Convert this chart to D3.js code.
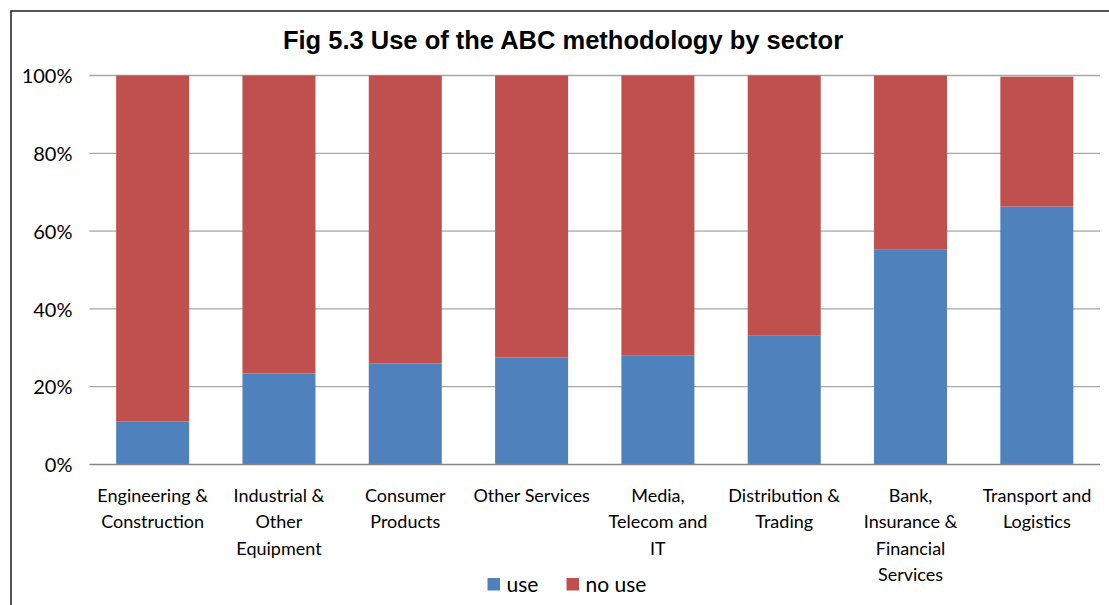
<!DOCTYPE html>
<html>
<head>
<meta charset="utf-8">
<script src="https://cdn.jsdelivr.net/npm/d3@7/dist/d3.min.js"></script>
<style>
  html, body { margin: 0; padding: 0; background: #fff; }
  svg { display: block; }
</style>
</head>
<body>
<svg id="chart" width="1109" height="605"></svg>
<script>
// Sectors along the x axis (multi-line labels)
const sectors = [
  ["Engineering &", "Construction"],
  ["Industrial &", "Other", "Equipment"],
  ["Consumer", "Products"],
  ["Other Services"],
  ["Media,", "Telecom and", "IT"],
  ["Distribution &", "Trading"],
  ["Bank,", "Insurance &", "Financial", "Services"],
  ["Transport and", "Logistics"]
];
// Share of respondents (%) per sector
const useShare   = [11.1, 23.4, 26.0, 27.5, 28.1, 33.1, 55.2, 66.3];
const noUseShare = [88.9, 76.6, 74.0, 72.5, 71.9, 66.9, 44.8, 33.4];
const seriesNames = ["use", "no use"];
const yTicks = [0, 20, 40, 60, 80, 100];

const colors = { "use": "#4F81BD", "no use": "#C0504D" };

const svg = d3.select("#chart");
const W = 1109, H = 605;
const plot = { left: 89.5, right: 1100, top: 75.5, bottom: 464.5 };

// Outer chart frame
svg.append("rect")
  .attr("x", 11).attr("y", 11)
  .attr("width", W + 50).attr("height", H + 50)
  .attr("fill", "#fff")
  .attr("stroke", "#2b2b2b").attr("stroke-width", 1.6);

// Title
svg.append("text")
  .attr("x", 563).attr("y", 49)
  .attr("text-anchor", "middle")
  .attr("font-family", "Liberation Sans, Arial, sans-serif")
  .attr("font-weight", "bold")
  .attr("font-size", 25.5)
  .attr("fill", "#000")
  .text("Fig 5.3 Use of the ABC methodology by sector");

const keys = sectors.map((d, i) => i);
const x = d3.scaleBand()
  .domain(keys)
  .range([plot.left, plot.right])
  .paddingInner(0.422)
  .paddingOuter(0.211);

const y = d3.scaleLinear()
  .domain([0, 100])
  .range([plot.bottom, plot.top]);

// Gridlines
svg.append("g")
  .selectAll("line")
  .data(yTicks.filter(t => t > 0))
  .join("line")
  .attr("x1", plot.left).attr("x2", plot.right)
  .attr("y1", d => y(d)).attr("y2", d => y(d))
  .attr("stroke", "#a6a6a6").attr("stroke-width", 1.3);

// Stacked bars
const rows = keys.map(i => ({ i, "use": useShare[i], "no use": noUseShare[i] }));
const stack = d3.stack().keys(seriesNames)(rows);

svg.append("g")
  .selectAll("g")
  .data(stack)
  .join("g")
  .attr("fill", d => colors[d.key])
  .selectAll("rect")
  .data(d => d)
  .join("rect")
  .attr("x", d => x(d.data.i))
  .attr("width", x.bandwidth())
  .attr("y", d => y(d[1]))
  .attr("height", d => y(d[0]) - y(d[1]));

// Baseline (0%)
svg.append("line")
  .attr("x1", plot.left).attr("x2", plot.right)
  .attr("y1", y(0)).attr("y2", y(0))
  .attr("stroke", "#868686").attr("stroke-width", 1.3);

// Y axis labels
const yAxis = d3.axisLeft(y)
  .tickValues(yTicks)
  .tickFormat(d => d + "%")
  .tickSize(0)
  .tickPadding(0);
const gy = svg.append("g")
  .attr("transform", `translate(${72.5},0)`)
  .call(yAxis);
gy.select(".domain").remove();
gy.selectAll("text")
  .attr("font-family", "Lato, sans-serif")
  .attr("font-size", 20)
  .attr("fill", "#000")
  .attr("dy", "0.36em");

// X axis category labels
const xAxis = d3.axisBottom(x).tickSize(0).tickFormat("");
const gx = svg.append("g")
  .attr("transform", `translate(0,${plot.bottom})`)
  .call(xAxis);
gx.select(".domain").remove();
gx.selectAll(".tick").each(function(i) {
  const t = d3.select(this).append("text")
    .attr("text-anchor", "middle")
    .attr("font-family", "Lato, sans-serif")
    .attr("font-size", 18)
    .attr("fill", "#000");
  sectors[i].forEach((line, k) => {
    t.append("tspan")
      .attr("x", 0)
      .attr("y", 37.5 + k * 26.4)
      .text(line);
  });
});

// Legend
const legendItems = [
  { key: "use", sx: 487.5, tx: 506.5 },
  { key: "no use", sx: 566.5, tx: 585.5 }
];
const lg = svg.append("g");
legendItems.forEach(it => {
  lg.append("rect")
    .attr("x", it.sx).attr("y", 578)
    .attr("width", 12.5).attr("height", 12.5)
    .attr("fill", colors[it.key]);
  lg.append("text")
    .attr("x", it.tx).attr("y", 591.5)
    .attr("font-family", "Lato, sans-serif")
    .attr("font-size", 21)
    .attr("fill", "#000")
    .text(it.key);
});
</script>
</body>
</html>
